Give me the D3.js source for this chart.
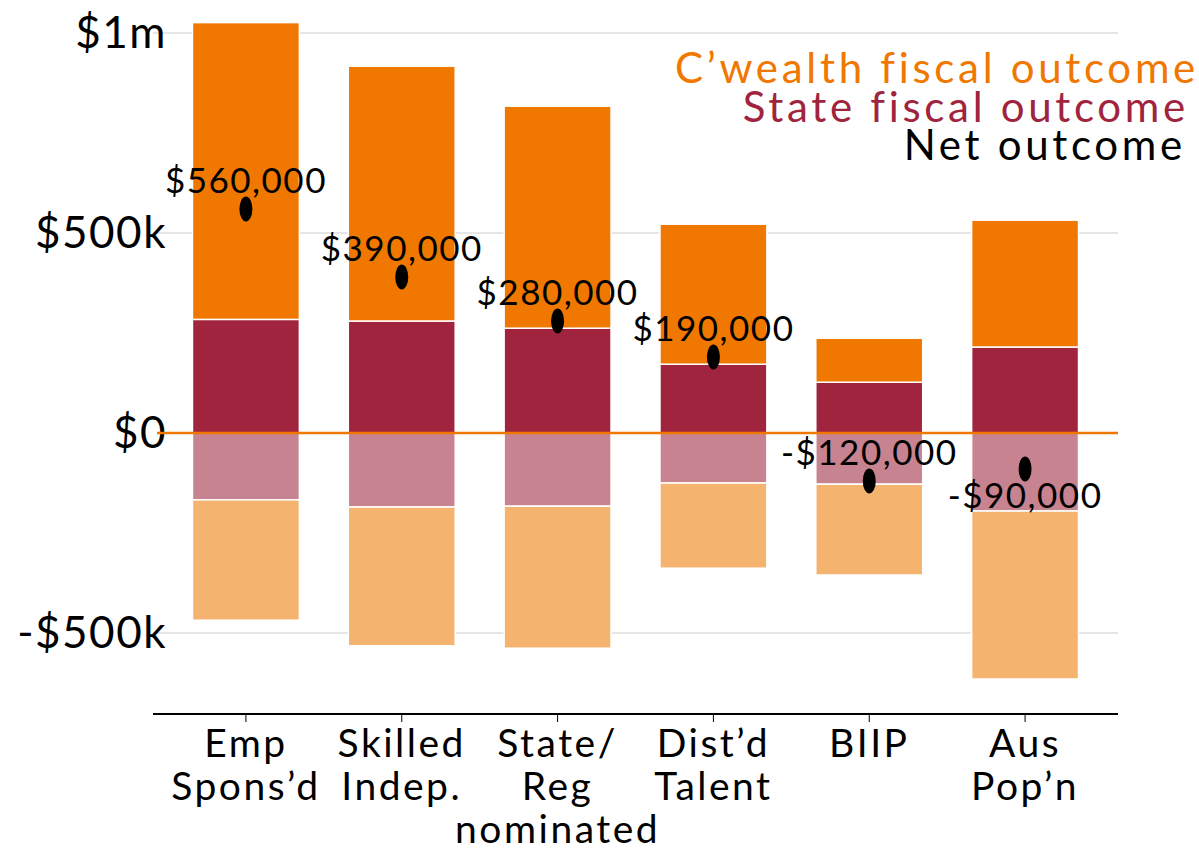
<!DOCTYPE html>
<html>
<head>
<meta charset="utf-8">
<script src="https://cdn.jsdelivr.net/npm/d3@7"></script>
<style>
  body { margin: 0; background: #fff; }
  svg text { font-family: Lato, "Open Sans", sans-serif; }
</style>
</head>
<body>
<div id="chart"></div>
<script>
// values in dollars
var categories = [["Emp", "Spons\u2019d"], ["Skilled", "Indep."], ["State/", "Reg", "nominated"],
                  ["Dist\u2019d", "Talent"], ["BIIP"], ["Aus", "Pop\u2019n"]];
var cwealthPos = [742000, 637000, 555000, 350000, 110000, 317000];
var statePos   = [284000, 280000, 262000, 172000, 127000, 215000];
var stateNeg   = [-167000, -185000, -183000, -125000, -128000, -195000];
var cwealthNeg = [-301000, -347000, -355000, -213000, -227000, -420000];
var netOutcome = [560000, 390000, 280000, 190000, -120000, -90000];
var yTicks = [-500000, 0, 500000, 1000000];
var yTickLabels = ["-$500k", "$0", "$500k", "$1m"];
var legendLabels = ["C\u2019wealth fiscal outcome", "State fiscal outcome", "Net outcome"];

var width = 1199, height = 855;
var orange = "#f07800", crimson = "#a0243e", pink = "#c88390", peach = "#f4b470";

var svg = d3.select("#chart").append("svg")
    .attr("width", width)
    .attr("height", height);

var keys = categories.map(function(d) { return d.join(" "); });

var x = d3.scaleBand()
    .domain(keys)
    .range([168, 1103])
    .paddingInner(0.314)
    .paddingOuter(0.157);

var y = d3.scaleLinear()
    .domain([-700000, 1000000])
    .range([713, 33]);

// gridlines
svg.append("g")
  .selectAll("line")
  .data(yTicks.filter(function(d) { return d !== 0; }))
  .enter().append("line")
    .attr("x1", 153).attr("x2", 1118)
    .attr("y1", function(d) { return y(d); })
    .attr("y2", function(d) { return y(d); })
    .attr("stroke", "#cccccc")
    .attr("stroke-width", 1);

// y labels
svg.append("g")
  .selectAll("text")
  .data(yTicks)
  .enter().append("text")
    .attr("x", 167)
    .attr("y", function(d) { return y(d); })
    .attr("dy", "0.35em")
    .attr("text-anchor", "end")
    .attr("font-size", 44)
    .attr("letter-spacing", 1.5)
    .attr("fill", "#000")
    .text(function(d, i) { return yTickLabels[i]; });

// stacked segments
var segs = [];
keys.forEach(function(k, i) {
  segs.push({k: k, y0: 0, y1: statePos[i], c: crimson});
  segs.push({k: k, y0: statePos[i], y1: statePos[i] + cwealthPos[i], c: orange});
  segs.push({k: k, y0: 0, y1: stateNeg[i], c: pink});
  segs.push({k: k, y0: stateNeg[i], y1: stateNeg[i] + cwealthNeg[i], c: peach});
});

svg.append("g")
  .selectAll("rect")
  .data(segs)
  .enter().append("rect")
    .attr("x", function(d) { return x(d.k); })
    .attr("width", x.bandwidth())
    .attr("y", function(d) { return y(Math.max(d.y0, d.y1)); })
    .attr("height", function(d) { return Math.abs(y(d.y0) - y(d.y1)); })
    .attr("fill", function(d) { return d.c; })
    .attr("stroke", "#fff")
    .attr("stroke-width", 1.5);

// zero line
svg.append("line")
    .attr("x1", 157).attr("x2", 1118)
    .attr("y1", y(0)).attr("y2", y(0))
    .attr("stroke", orange)
    .attr("stroke-width", 2.5);

// x axis
var xAxis = svg.append("g")
    .attr("transform", "translate(0," + 714 + ")")
    .call(d3.axisBottom(x).tickSize(8).tickSizeOuter(0).tickFormat(""));
xAxis.select(".domain").attr("stroke", "#000").attr("stroke-width", 2)
    .attr("d", "M153,0H1118");
xAxis.selectAll(".tick line").attr("stroke", "#000").attr("stroke-width", 1);

var catText = svg.append("g")
  .selectAll("text")
  .data(categories)
  .enter().append("text")
    .attr("text-anchor", "middle")
    .attr("font-size", 39)
    .attr("letter-spacing", 2.5)
    .attr("fill", "#000");
catText.each(function(d, i) {
  var t = d3.select(this);
  d.forEach(function(line, j) {
    t.append("tspan")
      .attr("x", x(keys[i]) + x.bandwidth() / 2)
      .attr("y", 757 + j * 43)
      .text(line);
  });
});

// net outcome dots + labels
var net = svg.append("g")
  .selectAll("g")
  .data(netOutcome)
  .enter().append("g")
    .attr("transform", function(d, i) {
      return "translate(" + (x(keys[i]) + x.bandwidth() / 2) + "," + y(d) + ")";
    });

net.append("ellipse")
    .attr("rx", 6.5)
    .attr("ry", 12.5)
    .attr("fill", "#000");

net.append("text")
    .attr("text-anchor", "middle")
    .attr("font-size", 35)
    .attr("letter-spacing", 1.5)
    .attr("fill", "#000")
    .attr("y", function(d, i) { return i === netOutcome.length - 1 ? 39 : -16; })
    .text(function(d) {
      return (d < 0 ? "-$" : "$") + d3.format(",")(Math.abs(d));
    });

// legend
var legendColors = [orange, crimson, "#000"];
var legendRight = [1199, 1189, 1186];
svg.append("g")
  .selectAll("text")
  .data(legendLabels)
  .enter().append("text")
    .attr("x", function(d, i) { return legendRight[i]; })
    .attr("y", function(d, i) { return 83 + i * 38.5; })
    .attr("text-anchor", "end")
    .attr("font-size", 42)
    .attr("letter-spacing", 3.7)
    .attr("fill", function(d, i) { return legendColors[i]; })
    .text(function(d) { return d; });
</script>
</body>
</html>
